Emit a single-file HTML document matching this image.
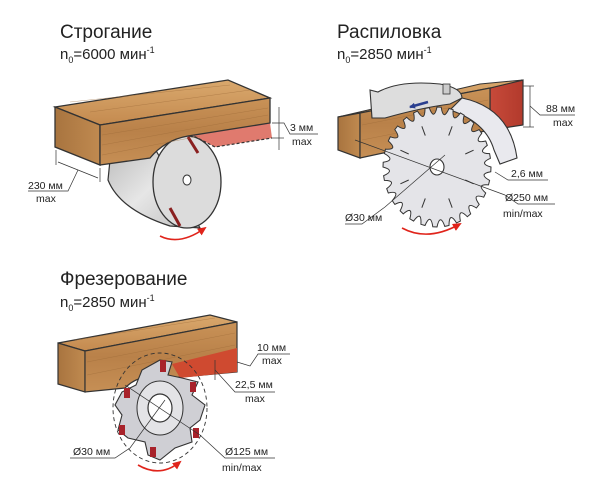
<!DOCTYPE html>
<html><head><meta charset="utf-8"><style>
html,body{margin:0;padding:0;background:#fff;width:600px;height:491px;overflow:hidden}
svg{display:block}
text{font-family:"Liberation Sans",sans-serif;fill:#222}
.t{font-size:19px}
.n{font-size:15px}
.l{font-size:10.5px}
</style></head><body>
<svg id="s" width="600" height="491" viewBox="0 0 600 491" xmlns="http://www.w3.org/2000/svg">
<defs>
<linearGradient id="wt" x1="0" y1="0" x2="0" y2="1"><stop offset="0" stop-color="#d9a86d"/><stop offset="1" stop-color="#c48a4f"/></linearGradient>
<linearGradient id="wf" x1="0" y1="0" x2="0" y2="1"><stop offset="0" stop-color="#c99257"/><stop offset="0.5" stop-color="#b98149"/><stop offset="1" stop-color="#c68f55"/></linearGradient>
<linearGradient id="we" x1="0" y1="0" x2="1" y2="0"><stop offset="0" stop-color="#a8743f"/><stop offset="1" stop-color="#c08a50"/></linearGradient>
<linearGradient id="cy" x1="0" y1="0" x2="1" y2="1"><stop offset="0" stop-color="#b9b9b9"/><stop offset="0.5" stop-color="#e6e6e6"/><stop offset="1" stop-color="#bdbdbd"/></linearGradient>
<linearGradient id="rd" x1="0" y1="0" x2="1" y2="0"><stop offset="0" stop-color="#c74a3a"/><stop offset="1" stop-color="#b23a2c"/></linearGradient>
<marker id="ar" markerUnits="userSpaceOnUse" markerWidth="9" markerHeight="8" refX="7" refY="4" orient="auto"><path d="M0,0 L9,4 L0,8 z" fill="#e0241b"/></marker>
<marker id="ak" markerUnits="userSpaceOnUse" markerWidth="6" markerHeight="6" refX="5" refY="3" orient="auto"><path d="M0,0 L6,3 L0,6 z" fill="#2a3f8f"/></marker>
</defs>

<!-- ===== Строгание ===== -->
<text x="60" y="38" class="t">Строгание</text>
<text x="60" y="59" class="n">n<tspan font-size="9" dy="4">0</tspan><tspan dy="-4">=6000 мин</tspan><tspan font-size="9" dy="-6">-1</tspan></text>

<polygon points="190,134 270,123 272,138 215,147" fill="#e07a6e"/>
<polyline points="190,134 215,147 272,138" fill="none" stroke="#333" stroke-dasharray="3,2" stroke-width="1.2"/>
<path d="M110,160 L150,140 L200,228 L170,226 Q120,210 108,180 Z" fill="url(#cy)" stroke="#333" stroke-width="1.2"/>
<ellipse cx="187" cy="182" rx="34" ry="46" fill="#dcdcdc" stroke="#333" stroke-width="1.3"/>
<ellipse cx="187" cy="180" rx="4" ry="5" fill="#fff" stroke="#333"/>
<line x1="188" y1="137" x2="198" y2="153" stroke="#8a2020" stroke-width="3"/>
<line x1="170" y1="208" x2="180" y2="226" stroke="#8a2020" stroke-width="3"/>
<polygon points="55,107 228,80 270,98 100,125" fill="url(#wt)" stroke="#333" stroke-width="1.3"/>
<polygon points="55,107 100,125 100,165 55,147" fill="url(#we)" stroke="#333" stroke-width="1.3"/>
<path d="M100,125 L270,98 L270,123 L188,136 Q165,140 150,158 L100,165 Z" fill="url(#wf)" stroke="#333" stroke-width="1.3"/>
<g stroke="#9c6a38" stroke-width="0.5" opacity="0.6">
<line x1="102" y1="135" x2="268" y2="108"/><line x1="102" y1="145" x2="268" y2="115"/><line x1="102" y1="155" x2="200" y2="136"/>
<line x1="70" y1="102" x2="230" y2="85"/><line x1="90" y1="112" x2="250" y2="90"/>
</g>
<line x1="56" y1="150" x2="56" y2="165" stroke="#333" stroke-width="0.7"/>
<line x1="100" y1="168" x2="100" y2="182" stroke="#333" stroke-width="0.7"/>
<line x1="58" y1="162" x2="98" y2="178" stroke="#333" stroke-width="0.7"/>
<polyline points="78,170 68,191 28,191" fill="none" stroke="#333" stroke-width="0.7"/>
<text x="28" y="189" class="l">230 мм</text><text x="36" y="202" class="l">max</text>
<line x1="279" y1="107" x2="279" y2="150" stroke="#333" stroke-width="0.7"/>
<polyline points="272,123 284,123 290,134 318,134" fill="none" stroke="#333" stroke-width="0.7"/>
<line x1="272" y1="138" x2="284" y2="138" stroke="#333" stroke-width="0.7"/>
<text x="290" y="131" class="l">3 мм</text><text x="292" y="145" class="l">max</text>
<path d="M160,236 Q180,246 205,228" fill="none" stroke="#e0241b" stroke-width="1.6" marker-end="url(#ar)"/>

<!-- ===== Распиловка ===== -->
<text x="337" y="38" class="t">Распиловка</text>
<text x="337" y="59" class="n">n<tspan font-size="9" dy="4">0</tspan><tspan dy="-4">=2850 мин</tspan><tspan font-size="9" dy="-6">-1</tspan></text>

<polygon points="490,88 523,80 523,125 490,130" fill="url(#rd)" stroke="#333" stroke-width="1.2"/>
<polygon points="338,117 480,84 523,80 490,88 360,113" fill="url(#wt)" stroke="#333" stroke-width="1"/>
<polygon points="338,117 360,113 360,158 338,150" fill="url(#we)" stroke="#333" stroke-width="1.2"/>
<polygon points="360,113 490,88 490,130 360,158" fill="url(#wf)" stroke="#333" stroke-width="1.2"/>
<g stroke="#9c6a38" stroke-width="0.5" opacity="0.6"><line x1="362" y1="125" x2="488" y2="100"/><line x1="362" y1="140" x2="488" y2="115"/></g>
<path d="M462,98 Q510,108 517,158 L500,164 L494,150 Q486,122 450,110 Z" fill="#e9e9ee" stroke="#333" stroke-width="1.1"/>
<g id="blade"></g>
<path d="M370,90 L378,92 Q400,80 440,84 Q462,88 462,98 L450,104 Q420,108 385,118 L372,118 Z" fill="#ddd" stroke="#333" stroke-width="1.1"/>
<path d="M428,102 L410,107" stroke="#2a3f8f" stroke-width="2.5" marker-end="url(#ak)"/>
<rect x="443" y="84" width="7" height="10" fill="#ccc" stroke="#333" stroke-width="0.8"/>
<line x1="355" y1="140" x2="505" y2="195" stroke="#333" stroke-width="0.7"/>
<polyline points="505,195 518,204 555,204" fill="none" stroke="#333" stroke-width="0.7"/>
<polyline points="385,207 362,224 345,224" fill="none" stroke="#333" stroke-width="0.7"/>
<line x1="385" y1="207" x2="445" y2="155" stroke="#333" stroke-width="0.7"/>
<polyline points="495,172 508,180 548,180" fill="none" stroke="#333" stroke-width="0.7"/>
<line x1="530" y1="86" x2="530" y2="127" stroke="#333" stroke-width="0.7"/>
<polyline points="523,86 534,86" stroke="#333" stroke-width="0.7"/><polyline points="523,127 534,127" stroke="#333" stroke-width="0.7"/>
<polyline points="530,106 540,115 575,115" fill="none" stroke="#333" stroke-width="0.7"/>
<text x="546" y="112" class="l">88 мм</text><text x="553" y="126" class="l">max</text>
<text x="511" y="177" class="l">2,6 мм</text>
<text x="505" y="201" class="l">Ø250 мм</text><text x="503" y="217" class="l">min/max</text>
<text x="345" y="221" class="l">Ø30 мм</text>
<path d="M402,228 Q428,242 460,224" fill="none" stroke="#e0241b" stroke-width="1.6" marker-end="url(#ar)"/>

<!-- ===== Фрезерование ===== -->
<text x="60" y="285" class="t">Фрезерование</text>
<text x="60" y="307" class="n">n<tspan font-size="9" dy="4">0</tspan><tspan dy="-4">=2850 мин</tspan><tspan font-size="9" dy="-6">-1</tspan></text>

<polygon points="58,343 210,315 237,322 85,351" fill="url(#wt)" stroke="#333" stroke-width="1.2"/>
<polygon points="58,343 85,351 85,392 58,384" fill="url(#we)" stroke="#333" stroke-width="1.2"/>
<path d="M85,351 L237,322 L237,372 L170,378 Q140,372 125,388 L85,392 Z" fill="url(#wf)" stroke="#333" stroke-width="1.2"/>
<polygon points="172,364 237,348 237,372 180,378" fill="#cf4a30"/>
<g stroke="#9c6a38" stroke-width="0.5" opacity="0.6">
<line x1="87" y1="362" x2="235" y2="333"/><line x1="87" y1="375" x2="235" y2="345"/><line x1="75" y1="340" x2="215" y2="318"/>
</g>
<ellipse cx="160" cy="408" rx="47" ry="55" fill="none" stroke="#333" stroke-dasharray="4,3" stroke-width="0.9"/>
<path d="M160,360 L172,362 L168,375 L182,378 L198,382 L192,395 L205,405 L200,420 L190,428 L192,442 L175,448 L160,460 L148,455 L145,442 L128,438 L118,430 L122,415 L115,405 L122,392 L136,385 L142,370 Z" fill="#cfcfd4" stroke="#333" stroke-width="1.1"/>
<g fill="#a8222a"><rect x="160" y="360" width="6" height="12"/><rect x="190" y="382" width="6" height="10"/><rect x="193" y="428" width="6" height="10"/><rect x="150" y="447" width="6" height="10"/><rect x="119" y="425" width="6" height="10"/><rect x="124" y="388" width="6" height="10"/></g>
<ellipse cx="160" cy="408" rx="23" ry="27" fill="#e3e3e6" stroke="#333" stroke-width="1"/>
<ellipse cx="160" cy="408" rx="12" ry="14" fill="#fff" stroke="#333" stroke-width="1.2"/>
<line x1="125" y1="385" x2="200" y2="435" stroke="#333" stroke-width="0.7"/>
<polyline points="200,435 225,458 275,458" fill="none" stroke="#333" stroke-width="0.7"/>
<polyline points="165,400 130,448 115,458 70,458" fill="none" stroke="#333" stroke-width="0.7"/>
<line x1="215" y1="360" x2="215" y2="380" stroke="#333" stroke-width="0.7"/>
<polyline points="215,370 235,392 275,392" fill="none" stroke="#333" stroke-width="0.7"/>
<polyline points="237,362 250,366 258,354 290,354" fill="none" stroke="#333" stroke-width="0.7"/>
<text x="257" y="351" class="l">10 мм</text><text x="262" y="364" class="l">max</text>
<text x="235" y="388" class="l">22,5 мм</text><text x="245" y="402" class="l">max</text>
<text x="73" y="455" class="l">Ø30 мм</text>
<text x="225" y="455" class="l">Ø125 мм</text><text x="222" y="471" class="l">min/max</text>
<path d="M138,465 Q160,478 180,462" fill="none" stroke="#e0241b" stroke-width="1.6" marker-end="url(#ar)"/>
</svg>
<script>
(function(){
var cx=437,cy=167,R=60,r=54,n=28,d="";
var p=function(a,rr){return (cx+rr*Math.cos(a)*0.9).toFixed(1)+","+(cy+rr*Math.sin(a)).toFixed(1);};
for(var i=0;i<n;i++){
 var a0=i/n*2*Math.PI, a1=(i+0.35)/n*2*Math.PI, a2=(i+1)/n*2*Math.PI;
 d+=(i?"L":"M")+p(a0,R)+" L"+p(a1,R)+" Q"+p((a1+a2)/2,r-8)+" "+p(a2,R)+" ";
}
d+="Z";
var g=document.getElementById("blade");
var s='<path d="'+d+'" fill="#e4e4e8" stroke="#333" stroke-width="1"/>'+
'<ellipse cx="437" cy="167" rx="7" ry="8" fill="#fff" stroke="#333" stroke-width="1.1"/>';
for(var j=0;j<8;j++){var a=(j+0.5)/8*2*Math.PI;s+='<line x1="'+(cx+34*Math.cos(a)*0.9)+'" y1="'+(cy+34*Math.sin(a))+'" x2="'+(cx+44*Math.cos(a)*0.9)+'" y2="'+(cy+44*Math.sin(a))+'" stroke="#333" stroke-width="1"/>';}
g.innerHTML=s;
})();
</script>
</body></html>
